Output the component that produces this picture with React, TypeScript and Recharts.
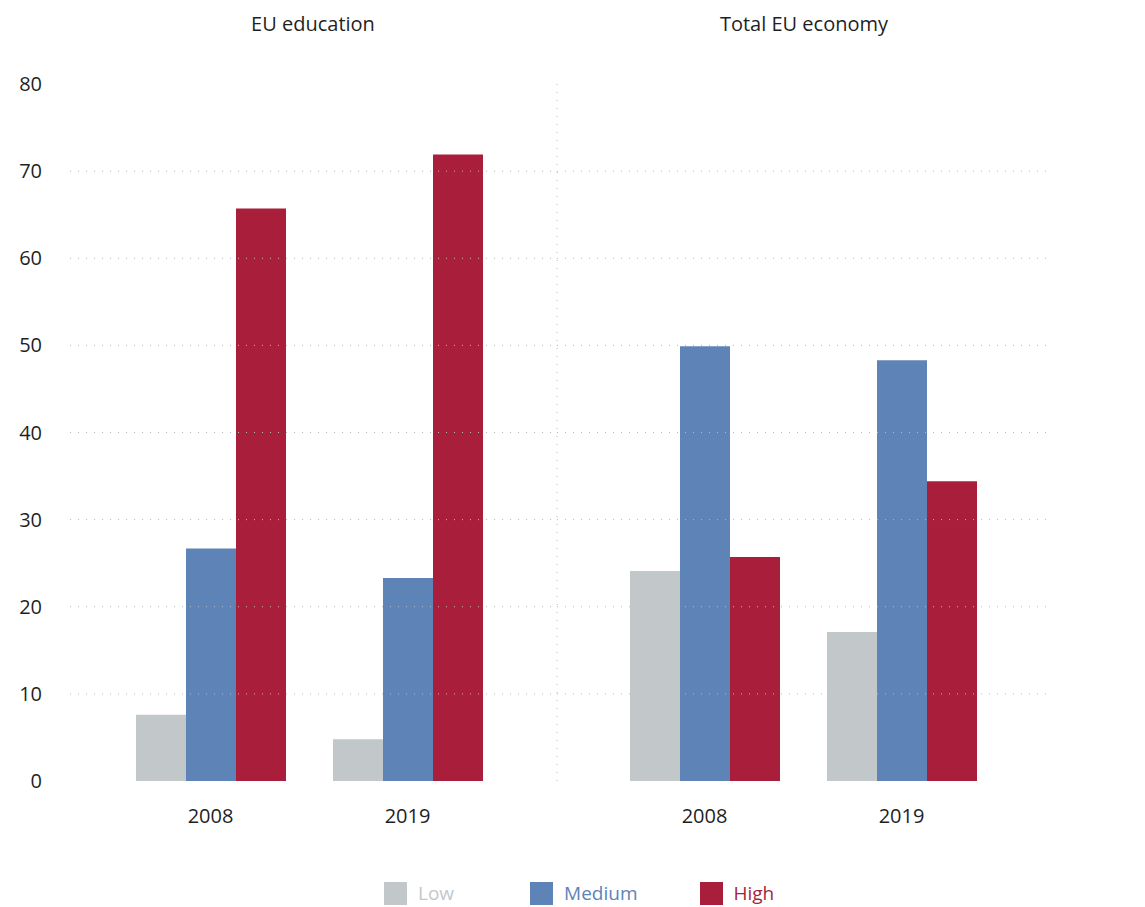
import { Bar, BarChart, Legend, ReferenceLine, XAxis, YAxis } from 'recharts'

// ── Data ──

const CATEGORIES = ['2008', '2019']
const EDU_LOW = [7.6, 4.8]
const EDU_MEDIUM = [26.7, 23.3]
const EDU_HIGH = [65.7, 71.9]
const ECON_LOW = [24.1, 17.1]
const ECON_MEDIUM = [49.9, 48.3]
const ECON_HIGH = [25.7, 34.4]
const Y_TICKS = [0, 10, 20, 30, 40, 50, 60, 70, 80]
const GRID_VALUES = [10, 20, 30, 40, 50, 60, 70]
const PANEL_TITLES = ['EU education', 'Total EU economy']

const SERIES = [
  { key: 'low', name: 'Low', color: '#c2c7ca' },
  { key: 'medium', name: 'Medium', color: '#5e83b7' },
  { key: 'high', name: 'High', color: '#a81e3b' },
]

const eduData = CATEGORIES.map((year, i) => ({
  year,
  low: EDU_LOW[i],
  medium: EDU_MEDIUM[i],
  high: EDU_HIGH[i],
}))

const econData = CATEGORIES.map((year, i) => ({
  year,
  low: ECON_LOW[i],
  medium: ECON_MEDIUM[i],
  high: ECON_HIGH[i],
}))

// ── Style ──

const FONT = '"Open Sans", "Noto Sans", sans-serif'
const TEXT = '#1f1f1f'
const GRID = '#b8b8b8'
const DOTS = '1 7'
const CHART_H = 907
const LEGEND_GAPS = [76, 62, 0]

function LegendContent() {
  return (
    <div style={{ display: 'flex', alignItems: 'center', fontFamily: FONT, fontSize: 19 }}>
      {SERIES.map((s, i) => (
        <div key={s.key} style={{ display: 'flex', alignItems: 'center', marginRight: LEGEND_GAPS[i] }}>
          <span style={{ width: 23, height: 23, background: s.color, display: 'inline-block' }} />
          <span style={{ color: s.color, marginLeft: 11, lineHeight: '23px' }}>{s.name}</span>
        </div>
      ))}
    </div>
  )
}

function Bars() {
  return SERIES.map((s) => (
    <Bar
      dataKey={s.key}
      fill={s.color}
      isAnimationActive={false}
      key={s.key}
      name={s.name}
    />
  ))
}

function Grid() {
  return GRID_VALUES.map((v) => (
    <ReferenceLine key={v} stroke={GRID} strokeDasharray={DOTS} y={v} />
  ))
}

export default function App() {
  return (
    <div style={{ position: 'absolute', left: 0, top: 0, width: 1145, height: CHART_H, background: '#fff', fontFamily: FONT }}>
      {/* panel titles */}
      {PANEL_TITLES.map((t, i) => (
        <div
          key={t}
          style={{
            position: 'absolute',
            top: 10,
            left: i === 0 ? 70 : 556,
            width: i === 0 ? 486 : 496,
            textAlign: 'center',
            fontSize: 20,
            color: TEXT,
          }}
        >
          {t}
        </div>
      ))}

      <div style={{ position: 'absolute', left: 0, top: 0 }}>
        <BarChart
          barCategoryGap={23}
          barGap={0}
          barSize={50}
          data={eduData}
          height={CHART_H}
          margin={{ top: 84, right: 0, bottom: 76, left: 0 }}
          width={556}
        >
          {Grid()}
          <XAxis
            axisLine={false}
            dataKey="year"
            height={50}
            padding={{ left: 42, right: 50 }}
            tick={{ fill: TEXT, fontSize: 20, fontFamily: FONT }}
            tickLine={false}
            tickMargin={22}
          />
          <YAxis
            axisLine={false}
            domain={[0, 80]}
            tick={{ fill: TEXT, fontSize: 20, fontFamily: FONT }}
            tickLine={false}
            tickMargin={22}
            ticks={Y_TICKS}
            width={70}
          />
          {Bars()}
          <Legend
            align="center"
            content={LegendContent}
            layout="vertical"
            verticalAlign="middle"
            wrapperStyle={{ left: 384, top: 882, width: 480 }}
          />
        </BarChart>
      </div>

      <div style={{ position: 'absolute', left: 556, top: 0 }}>
        <BarChart
          barCategoryGap={23}
          barGap={0}
          barSize={50}
          data={econData}
          height={CHART_H}
          margin={{ top: 84, right: 93, bottom: 76, left: 0 }}
          width={589}
        >
          {Grid()}
          <XAxis
            axisLine={false}
            dataKey="year"
            height={50}
            padding={{ left: 49, right: 52 }}
            tick={{ fill: TEXT, fontSize: 20, fontFamily: FONT }}
            tickLine={false}
            tickMargin={22}
          />
          <YAxis
            axisLine={{ stroke: GRID, strokeDasharray: DOTS }}
            domain={[0, 80]}
            tick={false}
            tickLine={false}
            ticks={Y_TICKS}
            width={1}
          />
          {Bars()}
        </BarChart>
      </div>
    </div>
  )
}
